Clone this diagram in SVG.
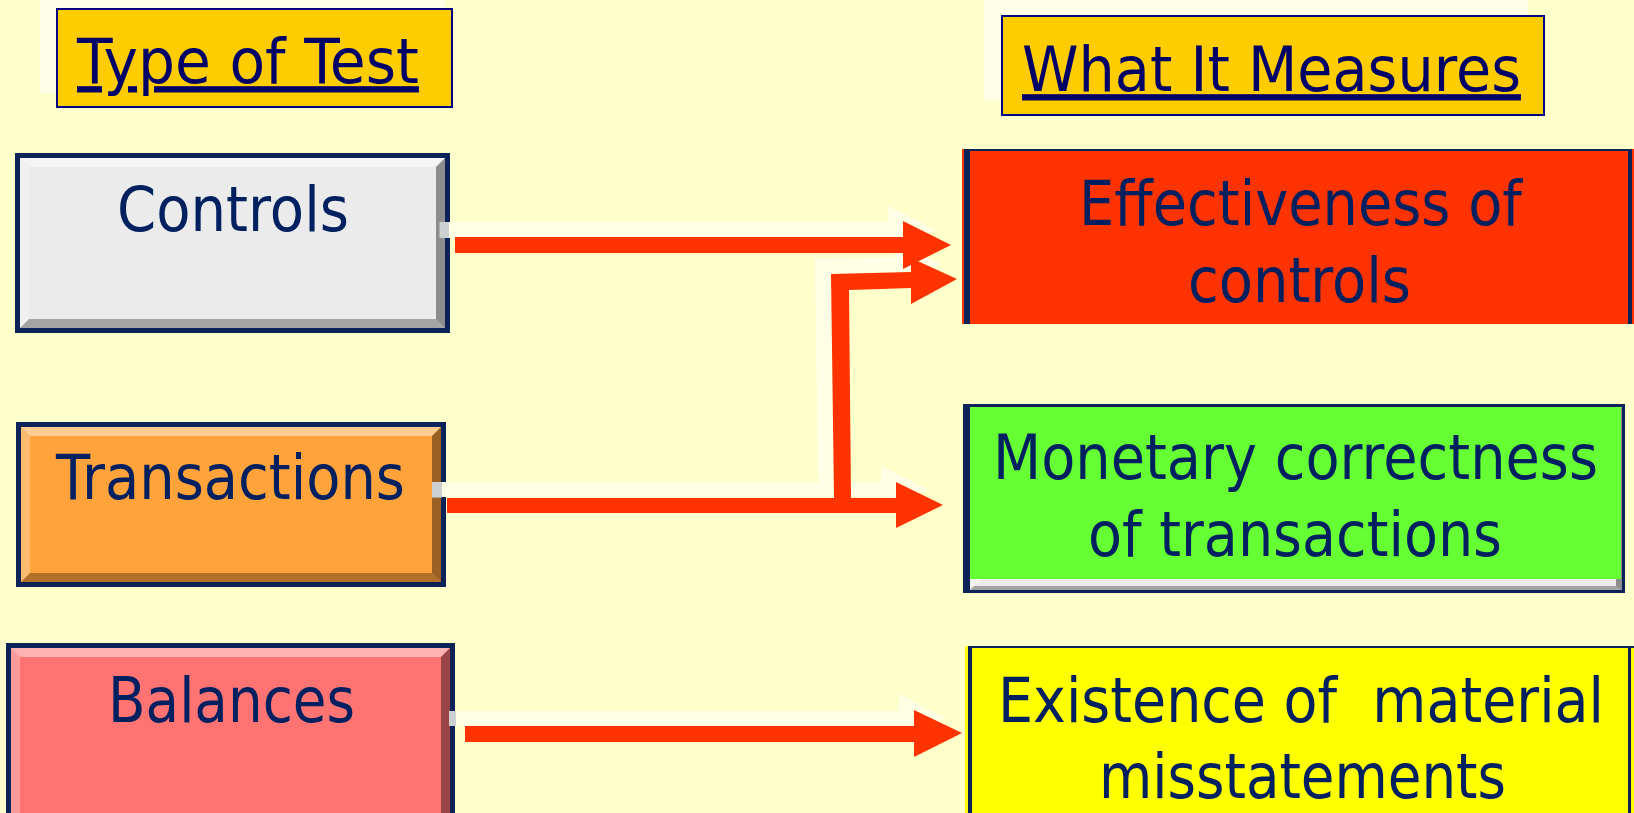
<svg xmlns="http://www.w3.org/2000/svg" width="1634" height="813" viewBox="0 0 1634 813">
<style>
.bg{fill:#FFFFCC}
.hshadow{fill:#FFFFE8}
.hbox{fill:#FFCC00;stroke:#000080;stroke-width:2}
.htext{font-family:"DejaVu Sans",Verdana,Tahoma,sans-serif;font-size:63px;fill:#000066;text-decoration:underline}
.ntext{font-family:"DejaVu Sans",Verdana,Tahoma,sans-serif;font-size:63px;fill:#002060}
.navy{fill:#0C2357}
.bt{fill:#FFFFFF;opacity:.45}
.bl{fill:#FFFFFF;opacity:.28}
.bb{fill:#000000;opacity:.3}
.br{fill:#000000;opacity:.4}
.ashadow{fill:#FFFFE6}
.anub{fill:#B8BCC8;opacity:.7}
.arrow{fill:#FF3300}
</style>
<rect class="bg" x="0" y="0" width="1634" height="813"/>

<g id="header-type">
<rect class="hshadow" x="40" y="-5" width="405" height="98"/>
<rect class="hbox" x="57" y="9" width="395" height="98"/>
<text class="htext" transform="translate(77,83) scale(0.88,1)" x="0" y="0" textLength="388.6" lengthAdjust="spacingAndGlyphs">Type of Test</text>
</g>

<g id="header-measures">
<rect class="hshadow" x="984" y="-5" width="544" height="105"/>
<rect class="hbox" x="1002" y="16" width="542" height="99"/>
<text class="htext" transform="translate(1022,91) scale(0.88,1)" x="0" y="0" textLength="567" lengthAdjust="spacingAndGlyphs">What It Measures</text>
</g>

<g id="node-controls">
<rect class="navy" x="15" y="153" width="435" height="180"/>
<rect x="20" y="158" width="425" height="170" fill="#EBEBEB"/>
<polygon class="bt" points="20,158 445,158 436,167 29,167"/>
<polygon class="bl" points="20,158 29,167 29,319 20,328"/>
<polygon class="bb" points="20,328 29,319 436,319 445,328"/>
<polygon class="br" points="445,158 445,328 436,319 436,167"/>
<text class="ntext" transform="translate(117,231) scale(0.88,1)" x="0" y="0" textLength="263.6" lengthAdjust="spacingAndGlyphs">Controls</text>
</g>

<g id="node-transactions">
<rect class="navy" x="16" y="422" width="430" height="165"/>
<rect x="21" y="427" width="420" height="155" fill="#FFA33A"/>
<polygon class="bt" points="21,427 441,427 432,436 30,436"/>
<polygon class="bl" points="21,427 30,436 30,573 21,582"/>
<polygon class="bb" points="21,582 30,573 432,573 441,582"/>
<polygon class="br" points="441,427 441,582 432,573 432,436"/>
<text class="ntext" transform="translate(56,499) scale(0.88,1)" x="0" y="0" textLength="396.6" lengthAdjust="spacingAndGlyphs">Transactions</text>
</g>

<g id="node-balances">
<rect class="navy" x="6" y="643" width="449" height="185"/>
<rect x="11" y="648" width="439" height="175" fill="#FF7373"/>
<polygon class="bt" points="11,648 450,648 441,657 20,657"/>
<polygon class="bl" points="11,648 20,657 20,814 11,823"/>
<polygon class="br" points="450,648 450,823 441,814 441,657"/>
<text class="ntext" transform="translate(108,722) scale(0.88,1)" x="0" y="0" textLength="280.7" lengthAdjust="spacingAndGlyphs">Balances</text>
</g>

<g id="node-effectiveness">
<rect x="962" y="149" width="672" height="175" fill="#FF3300"/>
<rect class="navy" x="964" y="149" width="6" height="175"/>
<rect class="navy" x="964" y="149" width="668" height="2"/>
<rect class="navy" x="1628" y="149" width="4" height="175"/>
<text class="ntext" transform="translate(1079,225) scale(0.88,1)" x="0" y="0" textLength="503.4" lengthAdjust="spacingAndGlyphs">Effectiveness of</text>
<text class="ntext" transform="translate(1188,302) scale(0.88,1)" x="0" y="0" textLength="253.4" lengthAdjust="spacingAndGlyphs">controls</text>
</g>

<g id="node-monetary">
<rect class="navy" x="963" y="404" width="662" height="189"/>
<rect x="970" y="407" width="652" height="183" fill="#EBEBEB"/>
<polygon points="970,579 982,579 974,586 970,590" fill="#FFFFFF" opacity=".5"/>
<polygon class="bb" points="970,590 974,586 1616,586 1622,590"/>
<polygon class="br" points="1622,407 1622,590 1616,586 1616,413"/>
<rect x="970" y="407" width="651" height="172" fill="#66FF33"/>
<text class="ntext" transform="translate(993,479) scale(0.88,1)" x="0" y="0" textLength="687.5" lengthAdjust="spacingAndGlyphs">Monetary correctness</text>
<text class="ntext" transform="translate(1088,556) scale(0.88,1)" x="0" y="0" textLength="470.5" lengthAdjust="spacingAndGlyphs">of transactions</text>
</g>

<g id="node-existence">
<rect x="965" y="646" width="669" height="170" fill="#FFFF00"/>
<rect class="navy" x="968" y="646" width="4" height="170"/>
<rect class="navy" x="968" y="646" width="666" height="2"/>
<rect class="navy" x="1628" y="646" width="3" height="170"/>
<text class="ntext" transform="translate(998,722) scale(0.88,1)" x="0" y="0" textLength="688.6" lengthAdjust="spacingAndGlyphs" xml:space="preserve" style="white-space:pre">Existence of  material</text>
<text class="ntext" transform="translate(1099,798) scale(0.88,1)" x="0" y="0" textLength="462.5" lengthAdjust="spacingAndGlyphs">misstatements</text>
</g>

<g id="connectors">
<g id="arrow-shadows">
<polygon class="ashadow" points="440,222 888,222 888,206 936,230 888,254 888,238 440,238"/>
<polygon class="ashadow" points="818,483 815,259 895,257 895,243 941,264 895,289 895,273 833,275 836,483"/>
<polygon class="ashadow" points="432,482 881,482 881,466 928,489 881,512 881,497 432,497"/>
<polygon class="ashadow" points="449,711 899,711 899,694 945,718 899,741 899,726 449,726"/>
<rect class="anub" x="439" y="222" width="10" height="16"/>
<rect class="anub" x="432" y="482" width="10" height="16"/>
<rect class="anub" x="449" y="711" width="7" height="15"/>
</g>
<polygon id="arrow-controls-effectiveness" class="arrow" points="455,237 903,237 903,221 951,245 903,269 903,253 455,253"/>
<polygon id="arrow-transactions-effectiveness" class="arrow" points="834,498 831,274 911,272 911,258 957,279 911,304 911,288 849,290 851,498"/>
<polygon id="arrow-transactions-monetary" class="arrow" points="447,498 896,498 896,482 943,505 896,528 896,513 447,513"/>
<polygon id="arrow-balances-existence" class="arrow" points="465,726 914,726 914,710 962,733 914,757 914,742 465,742"/>
</g>
</svg>
